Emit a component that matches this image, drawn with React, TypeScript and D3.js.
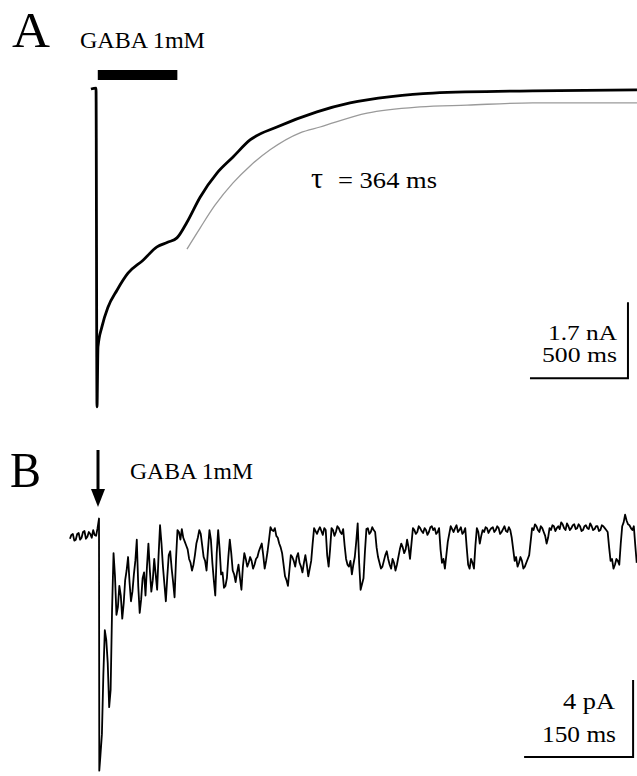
import { useRef, useEffect } from 'react';
import * as d3 from 'd3';

// Panel A: whole-cell GABA current, [time ms, current nA]
const traceA: [number, number][] = [
  [-31, 0], [-5, 0.02], [0, -7.11], [5, -5.77], [25, -5.32], [56, -4.88],
  [102, -4.5], [158, -4.12], [235, -3.83], [306, -3.53], [360, -3.43],
  [408, -3.33], [459, -2.98], [526, -2.42], [612, -1.88], [694, -1.52],
  [781, -1.14], [918, -0.85], [1122, -0.51], [1291, -0.31], [1500, -0.17],
  [1714, -0.09], [2224, -0.04], [2755, -0.02],
];

// single exponential fit (tau = 364 ms), drawn offset for clarity
const fitA: [number, number][] = [
  [459, -3.58], [526, -3.11], [602, -2.6], [694, -2.1], [781, -1.72],
  [883, -1.36], [1036, -0.98], [1138, -0.85], [1378, -0.54], [1648, -0.4],
  [1888, -0.36], [2224, -0.31], [2755, -0.31],
];

const gabaBarA: [number, number] = [4, 410]; // ms
const scaleBarA = { t: [2209, 2709], i: [-6.47, -4.77] }; // 500 ms, 1.7 nA

// Panel B: single-channel record, pA, sampled every dtB ms
const dtB = 2;
const bPre = [
  -0.35, -0.15, -0.1, -0.45, -0.4, -0.1, -0.05, -0.4, -0.3, 0.0,
  0.05, -0.35, -0.25, 0.0, -0.1, -0.3, 0.1, -0.15, -0.2, 0.2,
];
const bOnset: [number, number][] = [[0, 0.7], [0.4, -12.4]];
const bPost = [
  -11.6, -10.5, -7.4, -5.1, -5.6, -6.8, -9.1, -8.2, -4.0, -1.1,
  -2.3, -4.3, -3.9, -2.8, -3.3, -4.5, -3.7, -2.5, -2.0, -1.3,
  -2.6, -3.6, -3.1, -2.2, -1.5, -0.4, -2.8, -4.2, -3.5, -2.4,
  -2.1, -3.3, -1.8, -0.6, -2.0, -3.1, -2.5, -1.4, -2.2, -3.0,
  -1.2, 0.35, -0.6, -1.8, -2.7, -3.6, -2.3, -1.2, -1.0, -1.9,
  -2.6, -3.4, -1.4, 0.1, 0.0, -0.4, 0.15, -0.3, -0.5, -0.7,
  -0.9, -1.4, -1.6, -2.0, -1.7, -1.2, -0.6, -0.3, 0.1, -0.1,
  -0.7, -1.3, -1.5, -2.0, -0.9, 0.1, -0.4, -1.6, -2.5, -3.3,
  -1.1, 0.1, -0.9, -2.2, -2.1, -2.9, -2.8, -2.4, -1.3, -0.4,
  -1.1, -2.0, -2.2, -2.6, -2.1, -1.7, -2.4, -3.0, -1.8, -1.1,
  -1.4, -1.8, -1.6, -1.3, -1.5, -1.9, -1.7, -1.4, -1.3, -1.0,
  -0.8, -0.6, -1.2, -1.9, -1.5, -1.0, -0.4, 0.25, 0.1, 0.05,
  0.2, -0.2, -0.3, -0.6, -0.8, -1.1, -1.7, -2.3, -2.5, -2.8,
  -2.0, -1.2, -1.3, -1.5, -1.8, -1.3, -1.1, -1.6, -1.8, -2.1,
  -1.6, -1.2, -1.7, -2.3, -1.9, -1.5, -0.6, 0.2, 0.05, -0.1,
  0.1, 0.25, 0.05, -0.15, 0.2, 0.1, -1.2, -1.8, -0.9, 0.2,
  0.1, -0.2, 0.0, 0.3, 0.2, 0.0, -0.1, 0.15, -0.7, -1.4,
  -1.7, -1.8, -1.5, -2.2, -1.7, -1.3, -0.5, 0.45, -1.6, -3.0,
  -2.7, -2.4, -1.0, 0.15, 0.2, -0.1, 0.0, 0.25, 0.1, 0.0,
  -0.8, -1.3, -1.6, -1.9, -1.8, -1.5, -1.2, -1.0, -1.4, -1.7,
  -1.9, -1.4, -1.6, -2.0, -1.7, -1.3, -0.9, -0.6, -0.8, -1.1,
  -0.9, -0.4, -0.8, -1.4, -0.6, 0.2, 0.1, -0.1, 0.0, 0.3,
  0.2, 0.05, -0.05, 0.2, 0.1, -0.15, 0.0, 0.25, 0.3, 0.1,
  0.2, -0.1, 0.0, 0.2, -0.9, -1.6, -1.4, -1.9, -1.2, -0.5,
  -0.1, 0.3, 0.15, 0.0, 0.2, 0.35, 0.0, 0.1, 0.25, -0.1,
  0.0, 0.2, -0.8, -1.7, -1.9, -1.4, -1.6, -1.9, -0.7, 0.2,
  0.0, -0.6, -0.2, 0.1, 0.0, 0.25, 0.2, -0.05, 0.1, 0.2,
  0.25, 0.0, 0.1, 0.3, 0.2, -0.1, 0.0, 0.15, 0.3, 0.05,
  0.0, 0.25, 0.1, -0.3, -0.9, -1.5, -1.3, -1.8, -1.6, -1.3,
  -1.5, -1.9, -1.8, -1.6, -1.4, -1.2, -0.5, 0.2, 0.1, 0.4,
  0.3, 0.1, 0.0, 0.3, 0.2, 0.0, -0.2, -0.6, -0.3, 0.2,
  0.1, 0.35, 0.3, 0.05, 0.2, 0.3, 0.15, 0.5, 0.4, 0.2,
  0.1, 0.45, 0.3, 0.1, 0.2, 0.35, 0.4, 0.15, 0.2, 0.4,
  0.3, 0.05, 0.1, 0.3, 0.35, 0.2, 0.15, 0.45, 0.3, 0.1,
  0.15, 0.3, 0.3, 0.05, 0.1, 0.35, 0.3, 0.2, 0.1, 0.0,
  -0.8, -1.5, -1.4, -1.9, -1.7, -1.4, -1.5, -1.7, -0.6, 0.3,
  0.5, 0.9, 0.6, 0.4, 0.35, 0.2, 0.1, 0.3, -0.7, -1.6,
];
const scaleBarB = { t: [585, 735], i: [-11.69, -7.69] }; // 150 ms, 4 pA

const width = 637;
const height = 776;
const serif = "'Liberation Serif', 'Times New Roman', Times, serif";

function App() {
  const svgRef = useRef<SVGSVGElement>(null);

  useEffect(() => {
    const svg = d3.select(svgRef.current);
    svg.selectAll('*').remove();

    const label = (x: number, y: number, size: number, txt: string, anchor = 'start', len?: number) => {
      const t = svg
        .append('text')
        .attr('x', x)
        .attr('y', y)
        .attr('text-anchor', anchor)
        .attr('font-family', serif)
        .attr('font-size', size)
        .attr('fill', '#000')
        .text(txt);
      if (len) t.attr('textLength', len).attr('lengthAdjust', 'spacingAndGlyphs');
      return t;
    };

    // ---------- A ----------
    const xA = d3.scaleLinear().domain([0, 500]).range([97, 195]);
    const yA = d3.scaleLinear().domain([0, -1.7]).range([89, 165]);
    const lineA = d3
      .line<[number, number]>()
      .x((d) => xA(d[0]))
      .y((d) => yA(d[1]))
      .curve(d3.curveMonotoneX);

    svg
      .append('path')
      .datum(fitA)
      .attr('fill', 'none')
      .attr('stroke', '#9a9a9a')
      .attr('stroke-width', 1.3)
      .attr('d', lineA);

    svg
      .append('path')
      .datum(traceA)
      .attr('fill', 'none')
      .attr('stroke', '#000')
      .attr('stroke-width', 2.8)
      .attr('stroke-linejoin', 'round')
      .attr('d', lineA);

    svg
      .append('rect')
      .attr('x', xA(gabaBarA[0]))
      .attr('y', 70)
      .attr('width', xA(gabaBarA[1]) - xA(gabaBarA[0]))
      .attr('height', 10)
      .attr('fill', '#000');

    svg
      .append('path')
      .attr('fill', 'none')
      .attr('stroke', '#000')
      .attr('stroke-width', 2)
      .attr(
        'd',
        `M${xA(scaleBarA.t[0])},${yA(scaleBarA.i[0])}H${xA(scaleBarA.t[1])}V${yA(scaleBarA.i[1])}`
      );

    label(12, 47, 50, 'A', 'start', 38);
    label(80, 48, 23, 'GABA 1mM', 'start', 125);
    label(311, 188, 30, 'τ');
    label(338, 188, 23, '= 364 ms', 'start', 99);
    label(617, 340, 22, '1.7 nA', 'end', 69);
    label(617, 362, 22, '500 ms', 'end', 75);

    // ---------- B ----------
    const xB = d3.scaleLinear().domain([0, 150]).range([99, 208]);
    const yB = d3.scaleLinear().domain([0, -4]).range([532, 609]);
    const pointsB: [number, number][] = [
      ...bPre.map((v, i): [number, number] => [-40 + i * dtB, v]),
      ...bOnset,
      ...bPost.map((v, i): [number, number] => [(i + 1) * dtB, v]),
    ];
    const lineB = d3
      .line<[number, number]>()
      .x((d) => xB(d[0]))
      .y((d) => yB(d[1]));

    svg
      .append('path')
      .datum(pointsB)
      .attr('fill', 'none')
      .attr('stroke', '#000')
      .attr('stroke-width', 1.8)
      .attr('stroke-linejoin', 'round')
      .attr('d', lineB);

    svg
      .append('path')
      .attr('fill', 'none')
      .attr('stroke', '#000')
      .attr('stroke-width', 2)
      .attr(
        'd',
        `M${xB(scaleBarB.t[0])},${yB(scaleBarB.i[0])}H${xB(scaleBarB.t[1])}V${yB(scaleBarB.i[1])}`
      );

    // arrow marking GABA application
    svg
      .append('line')
      .attr('x1', 98)
      .attr('x2', 98)
      .attr('y1', 450)
      .attr('y2', 494)
      .attr('stroke', '#000')
      .attr('stroke-width', 3);
    svg.append('path').attr('d', 'M91,489L105,489L98,507Z').attr('fill', '#000');

    label(10, 487, 50, 'B', 'start', 31);
    label(130, 479, 23, 'GABA 1mM', 'start', 123);
    label(615, 709, 23, '4 pA', 'end', 52);
    label(616, 742, 23, '150 ms', 'end', 74);
  }, []);

  return (
    <svg
      ref={svgRef}
      width={width}
      height={height}
      viewBox={`0 0 ${width} ${height}`}
      style={{ position: 'absolute', left: 0, top: 0, background: '#fff' }}
    />
  );
}

export default App;
